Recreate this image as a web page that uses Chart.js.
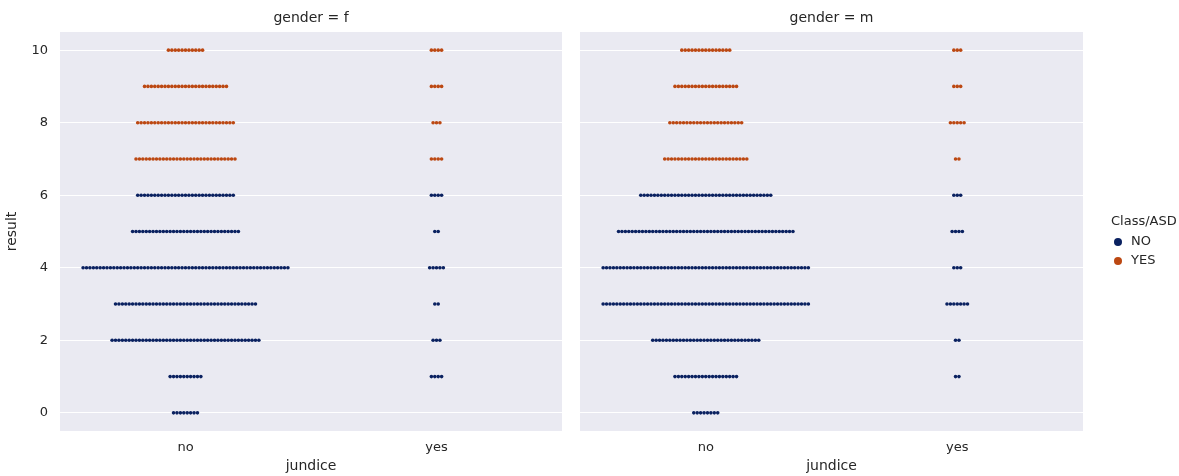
<!DOCTYPE html>
<html>
<head>
<meta charset="utf-8">
<script src="https://cdn.jsdelivr.net/npm/chart.js@4/dist/chart.umd.min.js"></script>
<style>
  html, body { margin: 0; padding: 0; background: #ffffff; }
  #wrap { position: relative; width: 1179px; height: 476px; }
  .panel { position: absolute; top: 0; height: 476px; }
  #left { left: 0; width: 570px; }
  #right { left: 570px; width: 609px; }
</style>
</head>
<body>
<div id="wrap">
  <div class="panel" id="left"><canvas id="cf"></canvas></div>
  <div class="panel" id="right"><canvas id="cm"></canvas></div>
</div>
<script>
// Autism screening scores ("result", 0-10) split by jaundice at birth and gender.
// Each row of the swarm is the number of respondents with that score.
const results = [0, 1, 2, 3, 4, 5, 6, 7, 8, 9, 10];
const jundiceCats = ['no', 'yes'];
const asdClass = ['NO', 'NO', 'NO', 'NO', 'NO', 'NO', 'NO', 'YES', 'YES', 'YES', 'YES'];
const yTicks = [0, 2, 4, 6, 8, 10];

// counts per score, gender = f
const femaleNo  = [8, 10, 44, 42, 61, 32, 29, 30, 29, 25, 11];
const femaleYes = [0, 4, 3, 2, 5, 2, 4, 4, 3, 4, 4];
// counts per score, gender = m
const maleNo  = [8, 19, 32, 61, 61, 52, 39, 25, 22, 19, 15];
const maleYes = [0, 2, 2, 7, 3, 4, 3, 2, 5, 3, 3];

const COLORS = { NO: '#0a2160', YES: '#bc4812' };
const TEXT = '#262626';
const FONT = 'DejaVu Sans';
const FS_TICK = 13;
const FS_LABEL = 14;
const STEP = 0.0136; // horizontal gap between neighbouring swarm dots, in category units

// Lay out each score row as a centred line of dots around its category.
function swarm(countsByCat, cls) {
  const pts = [];
  countsByCat.forEach((counts, ci) => {
    counts.forEach((n, ri) => {
      if (asdClass[ri] !== cls) return;
      for (let k = 0; k < n; k++) {
        pts.push({ x: ci + (k - (n - 1) / 2) * STEP, y: results[ri] });
      }
    });
  });
  return pts;
}

const facetTitle = {
  id: 'facetTitle',
  afterDraw(chart, args, opts) {
    const { ctx, chartArea } = chart;
    ctx.save();
    ctx.font = FS_LABEL + 'px "' + FONT + '"';
    ctx.fillStyle = TEXT;
    ctx.textAlign = 'center';
    ctx.textBaseline = 'middle';
    ctx.fillText(opts.text, (chartArea.left + chartArea.right) / 2, 18);
    ctx.restore();
  }
};

const sideLegend = {
  id: 'sideLegend',
  afterDraw(chart, args, opts) {
    if (!opts.show) return;
    const { ctx, chartArea } = chart;
    const x0 = chartArea.right + 28;
    ctx.save();
    ctx.font = FS_TICK + 'px "' + FONT + '"';
    ctx.fillStyle = TEXT;
    ctx.textBaseline = 'middle';
    ctx.textAlign = 'left';
    ctx.fillText('Class/ASD', x0, 222);
    ['NO', 'YES'].forEach((lab, i) => {
      const y = 242 + i * 19;
      ctx.beginPath();
      ctx.arc(x0 + 7, y, 4, 0, Math.PI * 2);
      ctx.fillStyle = COLORS[lab];
      ctx.fill();
      ctx.fillStyle = TEXT;
      ctx.fillText(lab, x0 + 20, y);
    });
    ctx.restore();
  }
};

const panelBg = {
  id: 'panelBg',
  beforeDraw(chart) {
    const { ctx, chartArea: a } = chart;
    ctx.save();
    ctx.fillStyle = '#eaeaf2';
    ctx.fillRect(a.left, a.top, a.right - a.left, a.bottom - a.top);
    ctx.restore();
  }
};

function makeFacet(canvasId, title, noCounts, yesCounts, isLeft) {
  const datasets = ['NO', 'YES'].map(cls => ({
    label: cls,
    data: swarm([noCounts, yesCounts], cls),
    backgroundColor: COLORS[cls],
    borderColor: COLORS[cls],
    borderWidth: 0,
    pointRadius: 1.8,
    pointHoverRadius: 1.8
  }));
  return new Chart(document.getElementById(canvasId), {
    type: 'scatter',
    data: { datasets },
    plugins: [panelBg, facetTitle, sideLegend],
    options: {
      responsive: false,
      animation: false,
      events: [],
      layout: { padding: { top: 32, right: isLeft ? 8 : 96, left: isLeft ? 0 : 10, bottom: 0 } },
      plugins: {
        legend: { display: false },
        tooltip: { enabled: false },
        facetTitle: { text: title },
        sideLegend: { show: !isLeft }
      },
      scales: {
        x: {
          type: 'linear', min: -0.5, max: 1.5,
          afterBuildTicks: s => { s.ticks = jundiceCats.map((c, i) => ({ value: i })); },
          afterFit: s => { s.height = 45; },
          grid: { display: false, drawTicks: false },
          border: { display: false },
          ticks: {
            padding: 9, color: TEXT, font: { family: FONT, size: FS_TICK },
            callback: v => jundiceCats[v]
          },
          title: { display: true, text: 'jundice', color: TEXT, font: { family: FONT, size: FS_LABEL }, padding: { top: 0, bottom: 1 } }
        },
        y: {
          type: 'linear', min: -0.5, max: 10.5,
          afterBuildTicks: s => { s.ticks = yTicks.map(v => ({ value: v })); },
          afterFit: s => { s.width = isLeft ? 60 : 0; },
          grid: { color: '#ffffff', lineWidth: 1, drawTicks: false },
          border: { display: false },
          ticks: { display: isLeft, padding: 12, color: TEXT, font: { family: FONT, size: FS_TICK } },
          title: { display: isLeft, text: 'result', color: TEXT, font: { family: FONT, size: FS_LABEL }, padding: { top: 4, bottom: 0 } }
        }
      }
    }
  });
}

document.getElementById('cf').width = 570; document.getElementById('cf').height = 476;
document.getElementById('cm').width = 609; document.getElementById('cm').height = 476;
makeFacet('cf', 'gender = f', femaleNo, femaleYes, true);
makeFacet('cm', 'gender = m', maleNo, maleYes, false);
</script>
</body>
</html>
